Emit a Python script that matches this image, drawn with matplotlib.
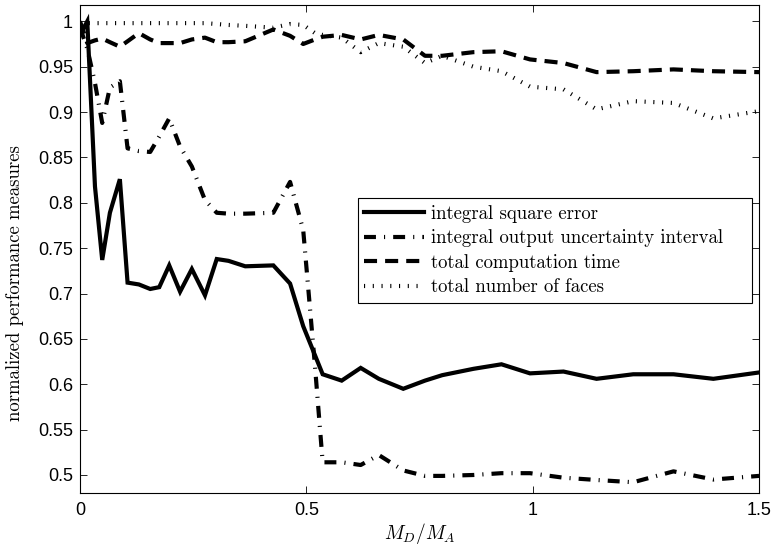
import matplotlib
matplotlib.use('Agg')
import matplotlib.pyplot as plt

# sample positions of M_D/M_A
x = [0, 0.016, 0.033, 0.049, 0.066, 0.088, 0.105, 0.13, 0.155, 0.175, 0.197,
     0.221, 0.247, 0.276, 0.302, 0.328, 0.365, 0.427, 0.464, 0.493, 0.519,
     0.536, 0.578, 0.620, 0.66, 0.714, 0.762, 0.80, 0.869, 0.931, 0.994,
     1.068, 1.141, 1.222, 1.311, 1.399, 1.5]

ise = [0.985, 1.0, 0.818, 0.737, 0.789, 0.826, 0.712, 0.710, 0.705, 0.707, 0.731,
       0.702, 0.727, 0.698, 0.738, 0.736, 0.730, 0.731, 0.711, 0.664, 0.632,
       0.611, 0.604, 0.618, 0.606, 0.595, 0.604, 0.610, 0.617, 0.622, 0.612,
       0.614, 0.606, 0.611, 0.611, 0.606, 0.613]

uncertainty = [0.993, 0.970, 0.932, 0.888, 0.927, 0.934, 0.860, 0.857, 0.856, 0.873, 0.893,
               0.862, 0.840, 0.803, 0.789, 0.788, 0.788, 0.789, 0.823, 0.770, 0.620,
               0.514, 0.514, 0.511, 0.522, 0.505, 0.499, 0.499, 0.500, 0.502, 0.502,
               0.497, 0.4945, 0.492, 0.504, 0.495, 0.499]

comp_time = [1.0, 0.976, 0.979, 0.981, 0.977, 0.972, 0.978, 0.987, 0.980, 0.976, 0.976,
             0.976, 0.980, 0.982, 0.977, 0.977, 0.978, 0.991, 0.984, 0.975, 0.980,
             0.983, 0.985, 0.980, 0.985, 0.980, 0.962, 0.962, 0.966, 0.967, 0.958,
             0.954, 0.944, 0.945, 0.947, 0.945, 0.944]

faces = [0.998, 0.998, 0.998, 0.998, 0.998, 0.998, 0.998, 0.998, 0.998, 0.998, 0.998,
         0.998, 0.998, 0.998, 0.997, 0.996, 0.995, 0.993, 0.997, 0.996, 0.987,
         0.985, 0.982, 0.966, 0.976, 0.972, 0.954, 0.962, 0.950, 0.945, 0.928,
         0.925, 0.903, 0.912, 0.910, 0.893, 0.901]

labels = ['integral square error', 'integral output uncertainty interval',
          'total computation time', 'total number of faces']

plt.rcParams['lines.scale_dashes'] = False
plt.rcParams['mathtext.fontset'] = 'cm'

fig = plt.figure(figsize=(7.74, 5.47), dpi=100)
ax = fig.add_axes([0.1034, 0.0993, 0.8773, 0.8916])

lw = 3.0
ax.plot(x, ise, color='black', lw=lw, solid_joinstyle='miter', label=labels[0])
ax.plot(x, uncertainty, color='black', lw=lw, dash_capstyle='butt',
        linestyle=(0, (8.6, 5.8, 0.8, 5.8)), label=labels[1])
ax.plot(x, comp_time, color='black', lw=lw, dash_capstyle='butt',
        linestyle=(0, (9.4, 5.8)), label=labels[2])
ax.plot(x, faces, color='black', lw=lw, dash_capstyle='butt',
        linestyle=(0, (0.8, 5.5)), label=labels[3])

ax.set_xlim(0, 1.5)
ax.set_ylim(0.4805, 1.018)
ax.set_xticks([0, 0.5, 1, 1.5])
ax.set_xticklabels(['0', '0.5', '1', '1.5'])
yt = [0.5, 0.55, 0.6, 0.65, 0.7, 0.75, 0.8, 0.85, 0.9, 0.95, 1]
ax.set_yticks(yt)
ax.set_yticklabels(['0.5', '0.55', '0.6', '0.65', '0.7', '0.75', '0.8', '0.85', '0.9', '0.95', '1'])
ax.tick_params(direction='in', top=True, right=True, length=5, width=0.6,
               labelsize=13, pad=5)
ax.tick_params(axis='x', pad=7)
for lab in ax.get_xticklabels() + ax.get_yticklabels():
    lab.set_family('Liberation Sans')
for s in ax.spines.values():
    s.set_linewidth(0.8)

ax.set_xlabel(r'$M_D/M_A$', fontsize=14, labelpad=1)
ax.set_ylabel('normalized performance measures', family='cmr10', fontsize=13.5)
ax.yaxis.set_label_coords(-0.082, 0.43)

leg = ax.legend(loc='upper left', bbox_to_anchor=(0.409, 0.394, 0.581, 0.21),
                mode='expand', borderaxespad=0,
                prop={'family': 'cmr10', 'size': 13.5}, handlelength=3.2,
                handletextpad=0.37, labelspacing=0.35, borderpad=0.35,
                fancybox=False, framealpha=1, edgecolor='black')
leg.get_frame().set_linewidth(0.8)

fig.savefig('out.png', dpi=100)
